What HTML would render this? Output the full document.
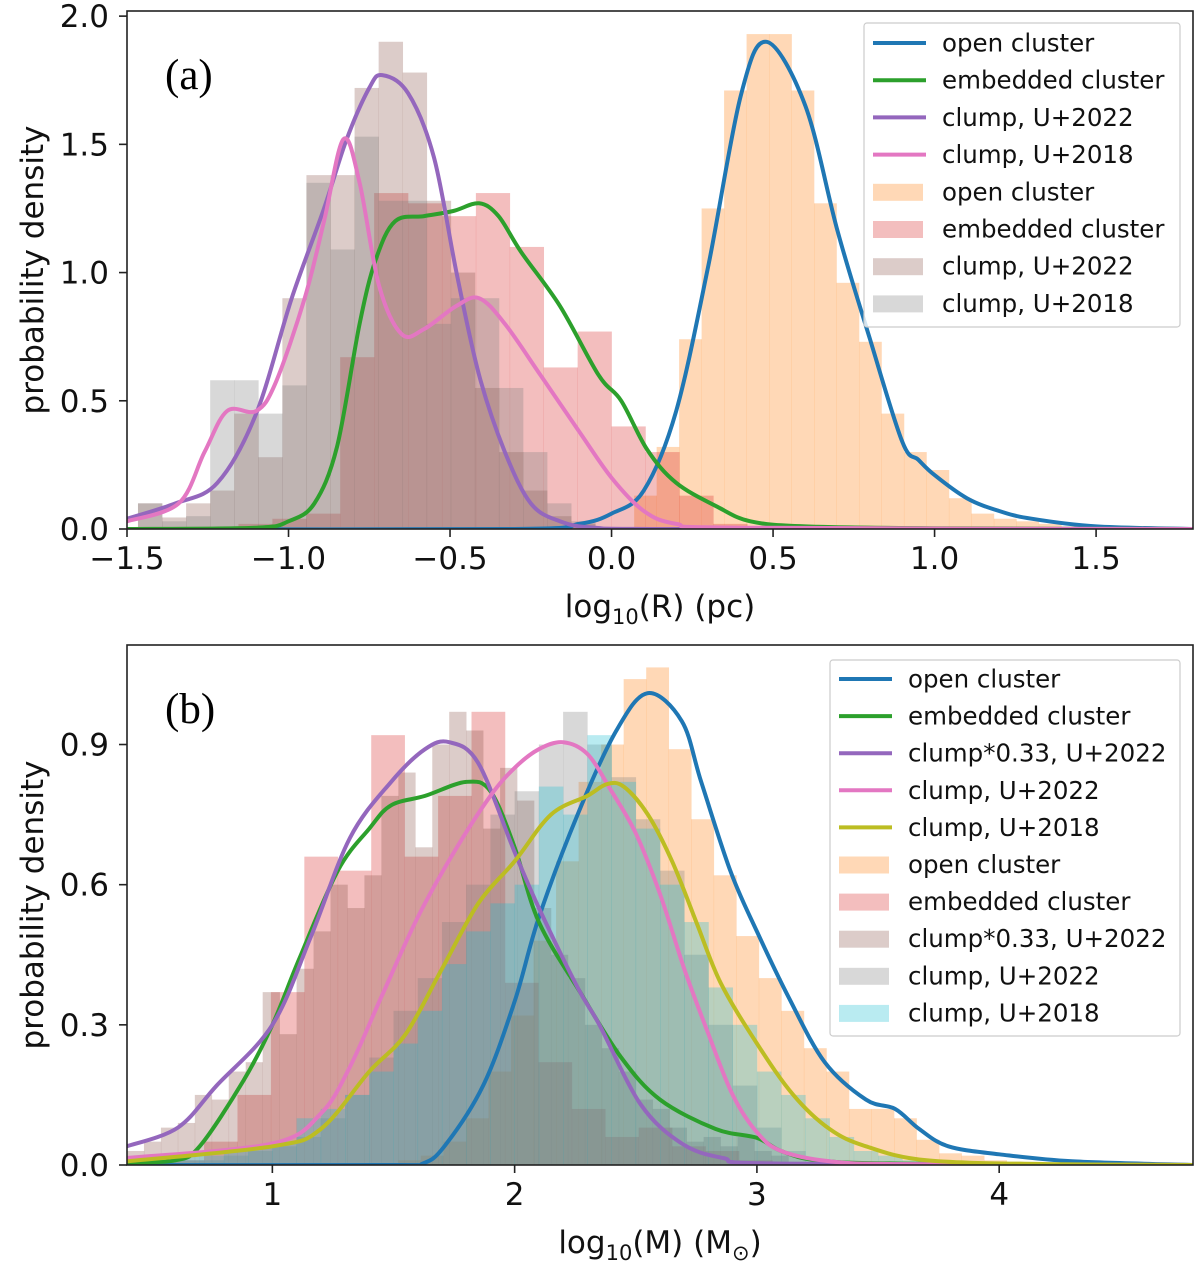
<!DOCTYPE html>
<html><head><meta charset="utf-8">
<style>
html,body{margin:0;padding:0;background:#fff;}
svg{display:block;}
text{font-family:"DejaVu Sans","Liberation Sans",sans-serif;}
</style></head>
<body>
<svg id="chart" width="1200" height="1268" viewBox="0 0 1200 1268" xmlns="http://www.w3.org/2000/svg">
<g id="panelA"></g>
<g id="panelB"></g>
</svg>
<script>
// ---------- Panel (a) data: log10(R) ----------
const aXTicks = [-1.5, -1.0, -0.5, 0.0, 0.5, 1.0, 1.5];
const aXTickLabels = ["\u22121.5", "\u22121.0", "\u22120.5", "0.0", "0.5", "1.0", "1.5"];
const aYTicks = [0.0, 0.5, 1.0, 1.5, 2.0];
const aYTickLabels = ["0.0", "0.5", "1.0", "1.5", "2.0"];

const aHistOpenStart = 0.07, aHistOpenWidth = 0.0696;
const aHistOpen = [0.13,0.32,0.74,1.25,1.71,1.93,1.93,1.71,1.27,0.96,0.73,0.45,0.30,0.23,0.12,0.06,0.04,0.03,0.02,0.01,0.01,0.01,0.005,0.005];
const aHistEmbStart = -1.155, aHistEmbWidth = 0.105;
const aHistEmb = [0.02,0.04,0.06,0.67,1.31,1.27,1.22,1.31,1.10,0.63,0.77,0.40,0.30,0.13,0.02];
const aHistC22Start = -1.466, aHistC22Width = 0.0745;
const aHistC22 = [0.10,0.045,0.10,0.15,0.45,0.28,0.90,1.38,1.38,1.72,1.90,1.78,1.28,1.00,0.55,0.30,0.15,0.05,0.02];
const aHistC18Start = -1.466, aHistC18Width = 0.0745;
const aHistC18 = [0.10,0.03,0.05,0.58,0.58,0.45,0.56,1.35,1.09,1.53,1.28,1.28,0.80,0.90,0.90,0.55,0.30,0.10,0.03];

const aOpenX = [-1.5,-0.3,-0.1,0,0.1,0.2,0.3,0.4,0.48,0.6,0.7,0.8,0.9,0.95,1.0,1.1,1.2,1.3,1.5,1.8];
const aOpenY = [0,0,0.02,0.06,0.15,0.46,1.03,1.69,1.9,1.65,1.16,0.74,0.34,0.27,0.21,0.12,0.07,0.04,0.01,0];
const aEmbX = [-1.5,-1.1,-1.0,-0.92,-0.85,-0.78,-0.73,-0.67,-0.58,-0.49,-0.41,-0.35,-0.28,-0.16,-0.04,0.03,0.11,0.2,0.33,0.43,0.6,1.0,1.8];
const aEmbY = [0,0.005,0.03,0.1,0.32,0.8,1.05,1.2,1.22,1.24,1.27,1.22,1.08,0.87,0.6,0.5,0.31,0.18,0.085,0.03,0.01,0.003,0];
const aC22X = [-1.5,-1.35,-1.22,-1.1,-0.99,-0.89,-0.82,-0.75,-0.71,-0.63,-0.55,-0.48,-0.41,-0.33,-0.25,-0.16,-0.05,0.2,1.8];
const aC22Y = [0.04,0.1,0.18,0.45,0.9,1.25,1.52,1.72,1.77,1.7,1.45,1.0,0.6,0.3,0.1,0.03,0.005,0,0];
const aC18X = [-1.5,-1.34,-1.26,-1.19,-1.1,-1.04,-0.95,-0.89,-0.83,-0.78,-0.72,-0.65,-0.58,-0.48,-0.41,-0.33,-0.22,-0.1,0,0.1,0.2,0.4,1.8];
const aC18Y = [0.03,0.1,0.3,0.46,0.46,0.57,0.9,1.2,1.52,1.35,0.95,0.76,0.78,0.87,0.9,0.8,0.6,0.38,0.2,0.07,0.02,0.005,0];

// ---------- Panel (b) data: log10(M) ----------
const bXTicks = [1, 2, 3, 4];
const bXTickLabels = ["1", "2", "3", "4"];
const bYTicks = [0.0, 0.3, 0.6, 0.9];
const bYTickLabels = ["0.0", "0.3", "0.6", "0.9"];

const bHistOpenStart = 1.52, bHistOpenWidth = 0.093;
const bHistOpen = [0.01,0.02,0.05,0.1,0.2,0.32,0.48,0.65,0.82,0.9,1.04,1.065,0.89,0.74,0.62,0.49,0.4,0.33,0.25,0.2,0.12,0.12,0.1,0.054,0.025,0.02,0.01,0.005,0.005,0.003];
const bHistEmbStart = 0.58, bHistEmbWidth = 0.138;
const bHistEmb = [0.01,0.05,0.15,0.37,0.66,0.63,0.92,0.66,0.79,0.97,0.39,0.22,0.12,0.06,0.08,0.04,0.03,0.01];
const bHistC33Start = 0.4, bHistC33Width = 0.07;
const bHistC33 = [0.03,0.05,0.08,0.09,0.15,0.14,0.2,0.22,0.37,0.28,0.42,0.5,0.6,0.55,0.62,0.79,0.84,0.68,0.9,0.97,0.93,0.72,0.85,0.78,0.55,0.45,0.4,0.3,0.25,0.2,0.14,0.12,0.08,0.05,0.06,0.04,0.06,0.03,0.02];
const bHistC22Start = 0.4, bHistC22Width = 0.1;
const bHistC22 = [0.005,0.005,0.01,0.01,0.02,0.03,0.04,0.06,0.1,0.15,0.23,0.33,0.4,0.52,0.6,0.75,0.8,0.9,0.97,0.9,0.83,0.74,0.63,0.45,0.3,0.17,0.08,0.03,0.01];
const bHistC18Start = 0.4, bHistC18Width = 0.1;
const bHistC18 = [0.01,0.01,0.02,0.02,0.03,0.04,0.05,0.1,0.12,0.15,0.2,0.26,0.33,0.43,0.5,0.56,0.6,0.81,0.75,0.92,0.82,0.72,0.6,0.52,0.38,0.3,0.2,0.15,0.1,0.06,0.03,0.02,0.01];

const bOpenX = [0.4,1.5,1.62,1.71,1.87,2.0,2.1,2.26,2.42,2.55,2.69,2.77,2.89,3.0,3.13,3.28,3.45,3.57,3.67,3.79,4.0,4.3,4.8];
const bOpenY = [0,0,0.003,0.04,0.17,0.35,0.53,0.75,0.93,1.01,0.95,0.82,0.63,0.5,0.36,0.22,0.14,0.12,0.077,0.04,0.023,0.008,0];
const bEmbX = [0.4,0.6,0.7,0.88,1.0,1.11,1.27,1.4,1.49,1.63,1.8,1.9,2.0,2.1,2.27,2.44,2.6,2.83,3.0,3.1,3.25,3.6,4.8];
const bEmbY = [0.005,0.01,0.04,0.18,0.3,0.44,0.63,0.72,0.77,0.79,0.82,0.8,0.68,0.52,0.37,0.23,0.14,0.077,0.058,0.03,0.01,0.003,0];
const bC33X = [0.4,0.61,0.77,1.0,1.16,1.32,1.49,1.63,1.73,1.85,2.0,2.1,2.26,2.35,2.52,2.69,2.86,3.1,4.8];
const bC33Y = [0.04,0.08,0.17,0.3,0.49,0.7,0.82,0.89,0.905,0.86,0.67,0.55,0.38,0.3,0.13,0.046,0.015,0.003,0];
const bC22X = [0.4,1.0,1.2,1.32,1.45,1.6,1.75,1.9,2.0,2.1,2.2,2.3,2.4,2.5,2.6,2.7,2.8,2.9,3.0,3.1,3.3,3.6,4.8];
const bC22Y = [0.015,0.046,0.11,0.21,0.36,0.53,0.67,0.79,0.85,0.89,0.905,0.88,0.8,0.71,0.58,0.42,0.28,0.15,0.07,0.03,0.008,0.002,0];
const bC18X = [0.4,1.0,1.2,1.4,1.55,1.7,1.85,2.0,2.15,2.3,2.38,2.45,2.55,2.65,2.75,2.85,3.0,3.15,3.3,3.45,3.7,4.2,4.8];
const bC18Y = [0.008,0.04,0.077,0.2,0.28,0.42,0.56,0.65,0.75,0.79,0.815,0.81,0.75,0.65,0.52,0.39,0.26,0.15,0.077,0.04,0.01,0.002,0];

const SVGNS = "http://www.w3.org/2000/svg";
function mk(tag, attrs, parent) {
  const e = document.createElementNS(SVGNS, tag);
  for (const k in attrs) e.setAttribute(k, attrs[k]);
  parent.appendChild(e);
  return e;
}
function smoothPath(pts) {
  let d = "M" + pts[0][0].toFixed(1) + "," + pts[0][1].toFixed(1);
  for (let i = 0; i < pts.length - 1; i++) {
    const p0 = pts[Math.max(0, i - 1)], p1 = pts[i], p2 = pts[i + 1], p3 = pts[Math.min(pts.length - 1, i + 2)];
    const c1x = p1[0] + (p2[0] - p0[0]) / 6, c1y = p1[1] + (p2[1] - p0[1]) / 6;
    const c2x = p2[0] - (p3[0] - p1[0]) / 6, c2y = p2[1] - (p3[1] - p1[1]) / 6;
    d += " C" + c1x.toFixed(1) + "," + c1y.toFixed(1) + " " + c2x.toFixed(1) + "," + c2y.toFixed(1) + " " + p2[0].toFixed(1) + "," + p2[1].toFixed(1);
  }
  return d;
}

function drawPanel(g, cfg) {
  const L = cfg.left, R = cfg.right, T = cfg.top, B = cfg.bottom;
  const sx = v => L + (v - cfg.xmin) / (cfg.xmax - cfg.xmin) * (R - L);
  const sy = v => B - (v - cfg.ymin) / (cfg.ymax - cfg.ymin) * (B - T);
  const clipId = cfg.id + "-clip";
  const defs = mk("defs", {}, g);
  const cp = mk("clipPath", {id: clipId}, defs);
  mk("rect", {x: L, y: T, width: R - L, height: B - T}, cp);
  const plot = mk("g", {"clip-path": "url(#" + clipId + ")"}, g);
  
  

  cfg.hists.forEach(h => {
    const hg = mk("g", {fill: h.color, "fill-opacity": 0.3}, plot);
    
    
    h.values.forEach((v, i) => {
      const x0 = sx(h.start + i * h.width), x1 = sx(h.start + (i + 1) * h.width);
      const r = mk("rect", {x: x0, y: sy(v), width: Math.max(0, x1 - x0 + 0.3), height: Math.max(0, sy(0) - sy(v))}, hg);
      
      
    });
  });
  cfg.lines.forEach(l => {
    const pts = l.xs.map((x, i) => [sx(x), sy(l.ys[i])]);
    const p = mk("path", {d: smoothPath(pts), fill: "none", stroke: l.color, "stroke-width": 4, "stroke-linejoin": "round", "stroke-linecap": "round"}, plot);
    
    
  });

  const fr = mk("rect", {x: L, y: T, width: R - L, height: B - T, fill: "none", stroke: "#222", "stroke-width": 1.6}, g);
  
  

  cfg.xTicks.forEach((t, i) => {
    const x = sx(t);
    const tk = mk("line", {x1: x, x2: x, y1: B, y2: B + 8, stroke: "#222", "stroke-width": 1.6}, g);
    
    
    const tx = mk("text", {x: x, y: B + 40, "font-size": 31, "text-anchor": "middle", fill: "#111"}, g);
    tx.textContent = cfg.xTickLabels[i];
    
    
  });
  cfg.yTicks.forEach((t, i) => {
    const y = sy(t);
    const tk = mk("line", {x1: L - 8, x2: L, y1: y, y2: y, stroke: "#222", "stroke-width": 1.6}, g);
    
    
    const tx = mk("text", {x: L - 18, y: y + 11, "font-size": 31, "text-anchor": "end", fill: "#111"}, g);
    tx.textContent = cfg.yTickLabels[i];
    
    
  });
  const yt = mk("text", {x: 0, y: 0, "font-size": 31, "text-anchor": "middle", fill: "#111", transform: "translate(43," + ((T + B) / 2) + ") rotate(-90)"}, g);
  yt.textContent = "probability density";
  
  
  const xt = mk("text", {x: cfg.xTitleX, y: B + 88, "font-size": 31, "text-anchor": "middle", fill: "#111"}, g);
  
  
  xt.innerHTML = cfg.xTitle;
  const pl = mk("text", {x: 165, y: T + 78, "font-size": 43, fill: "#000", style: "font-family:'Liberation Serif',serif"}, g);
  pl.textContent = cfg.label;
  
  

  const lg = mk("g", {}, g);
  
  
  const lb = cfg.legendBox;
  mk("rect", {x: lb.x, y: lb.y, width: lb.w, height: lb.h, fill: "#fff", "fill-opacity": 0.8, stroke: "#ccc", "stroke-width": 1.2, rx: 3}, lg);
  const entries = cfg.lines.map(l => ({type: "line", color: l.color, label: l.label}))
    .concat(cfg.hists.map(h => ({type: "patch", color: h.color, label: h.label})));
  entries.forEach((e, i) => {
    const cy = lb.first + i * lb.step;
    const eg = mk("g", {}, lg);
    
    
    if (e.type === "line") {
      mk("line", {x1: lb.x + 9, x2: lb.x + 62, y1: cy, y2: cy, stroke: e.color, "stroke-width": 4}, eg);
    } else {
      mk("rect", {x: lb.x + 9, y: cy - 8, width: 50, height: 17, fill: e.color, "fill-opacity": 0.3}, eg);
    }
    const t = mk("text", {x: lb.x + 78, y: cy + 8.5, "font-size": 24.5, fill: "#111"}, eg);
    t.textContent = e.label;
  });
}

drawPanel(document.getElementById("panelA"), {
  id: "panel-a", left: 127, right: 1193, top: 11, bottom: 529,
  xmin: -1.5, xmax: 1.8, ymin: 0, ymax: 2.02,
  xTicks: aXTicks, xTickLabels: aXTickLabels, yTicks: aYTicks, yTickLabels: aYTickLabels,
  xTitle: 'log<tspan font-size="21" dy="7">10</tspan><tspan dy="-7">(R) (pc)</tspan>', xTitleX: 660,
  label: "(a)",
  hists: [
    {name: "hist-open-cluster", color: "#ff7f0e", label: "open cluster", start: aHistOpenStart, width: aHistOpenWidth, values: aHistOpen},
    {name: "hist-embedded-cluster", color: "#d62728", label: "embedded cluster", start: aHistEmbStart, width: aHistEmbWidth, values: aHistEmb},
    {name: "hist-clump-u2022", color: "#8c564b", label: "clump, U+2022", start: aHistC22Start, width: aHistC22Width, values: aHistC22},
    {name: "hist-clump-u2018", color: "#7f7f7f", label: "clump, U+2018", start: aHistC18Start, width: aHistC18Width, values: aHistC18}
  ],
  lines: [
    {name: "kde-open-cluster", color: "#1f77b4", label: "open cluster", xs: aOpenX, ys: aOpenY},
    {name: "kde-embedded-cluster", color: "#2ca02c", label: "embedded cluster", xs: aEmbX, ys: aEmbY},
    {name: "kde-clump-u2022", color: "#9467bd", label: "clump, U+2022", xs: aC22X, ys: aC22Y},
    {name: "kde-clump-u2018", color: "#e377c2", label: "clump, U+2018", xs: aC18X, ys: aC18Y}
  ],
  legendBox: {x: 864, y: 23, w: 316, h: 304, first: 43, step: 37.2}
});

drawPanel(document.getElementById("panelB"), {
  id: "panel-b", left: 127, right: 1193, top: 645, bottom: 1165,
  xmin: 0.4, xmax: 4.8, ymin: 0, ymax: 1.113,
  xTicks: bXTicks, xTickLabels: bXTickLabels, yTicks: bYTicks, yTickLabels: bYTickLabels,
  xTitle: 'log<tspan font-size="21" dy="7">10</tspan><tspan dy="-7">(M) (M</tspan><tspan font-size="21" dy="7">\u2299</tspan><tspan dy="-7">)</tspan>', xTitleX: 660,
  label: "(b)",
  hists: [
    {name: "hist-open-cluster", color: "#ff7f0e", label: "open cluster", start: bHistOpenStart, width: bHistOpenWidth, values: bHistOpen},
    {name: "hist-embedded-cluster", color: "#d62728", label: "embedded cluster", start: bHistEmbStart, width: bHistEmbWidth, values: bHistEmb},
    {name: "hist-clump-033-u2022", color: "#8c564b", label: "clump*0.33, U+2022", start: bHistC33Start, width: bHistC33Width, values: bHistC33},
    {name: "hist-clump-u2022", color: "#7f7f7f", label: "clump, U+2022", start: bHistC22Start, width: bHistC22Width, values: bHistC22},
    {name: "hist-clump-u2018", color: "#17becf", label: "clump, U+2018", start: bHistC18Start, width: bHistC18Width, values: bHistC18}
  ],
  lines: [
    {name: "kde-open-cluster", color: "#1f77b4", label: "open cluster", xs: bOpenX, ys: bOpenY},
    {name: "kde-embedded-cluster", color: "#2ca02c", label: "embedded cluster", xs: bEmbX, ys: bEmbY},
    {name: "kde-clump-033-u2022", color: "#9467bd", label: "clump*0.33, U+2022", xs: bC33X, ys: bC33Y},
    {name: "kde-clump-u2022", color: "#e377c2", label: "clump, U+2022", xs: bC22X, ys: bC22Y},
    {name: "kde-clump-u2018", color: "#bcbd22", label: "clump, U+2018", xs: bC18X, ys: bC18Y}
  ],
  legendBox: {x: 830, y: 660, w: 350, h: 376, first: 679, step: 37.1}
});
</script>
</body></html>
